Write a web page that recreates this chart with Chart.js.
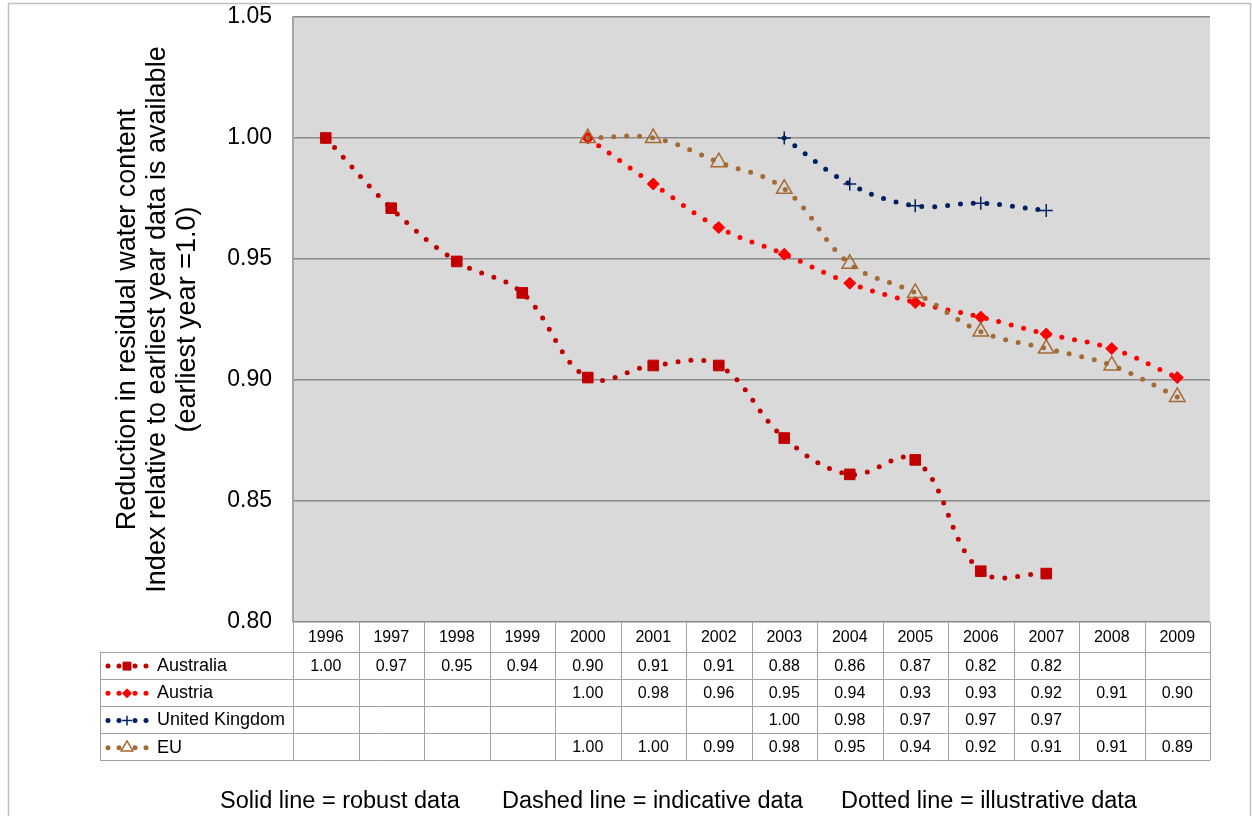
<!DOCTYPE html>
<html lang="en">
<head>
<meta charset="UTF-8">
<title>Reduction in residual water content</title>
<script src="https://cdn.jsdelivr.net/npm/chart.js"></script>
<style>
  body { margin: 0; background: #fff; }
  #wrap { position: relative; width: 1252px; height: 816px; }
</style>
</head>
<body>
<div id="wrap"><canvas id="chart" width="1252" height="816"></canvas></div>
<script>
// values (null = no data that year)
const years = ['1996', '1997', '1998', '1999', '2000', '2001', '2002', '2003', '2004', '2005', '2006', '2007', '2008', '2009'];
const australia = [1.000, 0.971, 0.949, 0.936, 0.901, 0.906, 0.906, 0.876, 0.861, 0.867, 0.821, 0.820, null, null];
const austria = [null, null, null, null, 1.000, 0.981, 0.963, 0.952, 0.940, 0.932, 0.926, 0.919, 0.913, 0.901];
const unitedKingdom = [null, null, null, null, null, null, null, 1.000, 0.981, 0.972, 0.973, 0.970, null, null];
const eu = [null, null, null, null, 1.000, 1.000, 0.990, 0.979, 0.948, 0.936, 0.920, 0.913, 0.906, 0.893];
const seriesNames = ['Australia', 'Austria', 'United Kingdom', 'EU'];
const yTicks = [0.80, 0.85, 0.90, 0.95, 1.00, 1.05];
const yTitle = ['Reduction in residual water content', 'Index relative to earliest year data is available', '(earliest year =1.0)'];
const notes = ['Solid line = robust data', 'Dashed line = indicative data', 'Dotted line = illustrative data'];

const FONT = "'Liberation Sans', Arial, sans-serif";
Chart.defaults.font.family = FONT;
Chart.defaults.color = '#000';

function series(label, data, color, style, radius, fillColor, borderW, order) {
    return {
        label: label,
        data: data,
        borderColor: color,
        borderWidth: 5,
        borderDash: [0, 13],
        borderCapStyle: 'round',
        tension: 0.38,
        fill: false,
        pointStyle: style,
        pointRadius: radius,
        pointBackgroundColor: fillColor,
        pointBorderColor: color,
        pointBorderWidth: borderW,
        order: order
    };
}

const datasets = [
    series(seriesNames[0], australia, '#c00000', 'rect', 7.5, '#c00000', 1, 3),
    series(seriesNames[1], austria, '#ff0000', 'rectRot', 6, '#ff0000', 1, 2),
    series(seriesNames[2], unitedKingdom, '#002060', 'cross', 6.5, '#002060', 1.5, 1),
    series(seriesNames[3], eu, '#a46a35', 'triangle', 9, 'rgba(0,0,0,0)', 1.5, 0)
];

// white page, outer frame and grey plot area
const frame = {
    id: 'frame',
    beforeDraw(chart) {
        const { ctx, chartArea: a } = chart;
        ctx.save();
        ctx.fillStyle = '#fff';
        ctx.fillRect(0, 0, chart.width, chart.height);
        ctx.strokeStyle = '#bfbfbf';
        ctx.lineWidth = 1.5;
        ctx.strokeRect(8.5, 3.5, 1242, 900);
        ctx.fillStyle = '#d9d9d9';
        ctx.fillRect(a.left, a.top, a.right - a.left, a.bottom - a.top);
        ctx.restore();
    }
};

// Excel style data table under the plot
const dataTable = {
    id: 'dataTable',
    afterDraw(chart) {
        const { ctx, chartArea: a } = chart;
        const xs = chart.scales.x;
        const band = xs.getPixelForValue(1) - xs.getPixelForValue(0);
        const headH = 29.5, rowH = 27.2, labelLeft = 100;
        const top = a.bottom;
        const rowTop = i => top + headH + i * rowH;
        const bottom = rowTop(seriesNames.length);

        ctx.save();
        ctx.strokeStyle = '#a0a0a0';
        ctx.lineWidth = 1;
        ctx.beginPath();
        for (let i = 0; i <= years.length; i++) {
            const ex = Math.round(xs.getPixelForValue(0) - band / 2 + i * band) + 0.5;
            ctx.moveTo(ex, top);
            ctx.lineTo(ex, bottom);
        }
        ctx.moveTo(labelLeft + 0.5, rowTop(0));
        ctx.lineTo(labelLeft + 0.5, bottom);
        for (let r = 0; r <= seriesNames.length; r++) {
            const y = Math.round(rowTop(r)) + 0.5;
            ctx.moveTo(labelLeft, y);
            ctx.lineTo(a.right, y);
        }
        ctx.stroke();

        ctx.fillStyle = '#000';
        ctx.textAlign = 'center';
        ctx.textBaseline = 'middle';
        ctx.font = '16px ' + FONT;
        years.forEach((yr, i) => ctx.fillText(yr, xs.getPixelForValue(i), top + headH / 2 + 1));

        chart.data.datasets.forEach((ds, r) => {
            const cy = rowTop(r) + rowH / 2 + 1;
            ctx.font = '16px ' + FONT;
            ctx.textAlign = 'center';
            ctx.fillStyle = '#000';
            ds.data.forEach((v, i) => {
                if (v !== null) ctx.fillText(v.toFixed(2), xs.getPixelForValue(i), cy);
            });

            // legend key: dots, marker, dots
            ctx.fillStyle = ds.borderColor;
            [-19, -8, 8, 19].forEach(dx => {
                ctx.beginPath();
                ctx.arc(127 + dx, cy, 2.5, 0, Math.PI * 2);
                ctx.fill();
            });
            if (Chart.helpers && Chart.helpers.drawPoint) {
                ctx.fillStyle = ds.pointBackgroundColor;
                ctx.strokeStyle = ds.pointBorderColor;
                ctx.lineWidth = ds.pointBorderWidth;
                Chart.helpers.drawPoint(ctx, {
                    pointStyle: ds.pointStyle,
                    radius: ds.pointRadius * 0.75,
                    rotation: 0,
                    borderWidth: ds.pointBorderWidth
                }, 127, cy);
            }

            ctx.fillStyle = '#000';
            ctx.textAlign = 'left';
            ctx.font = '18px ' + FONT;
            ctx.fillText(ds.label, 157, cy);
        });

        // line style note
        ctx.font = '23.5px ' + FONT;
        ctx.textAlign = 'left';
        ctx.fillText(notes[0], 220, 802);
        ctx.fillText(notes[1], 502, 802);
        ctx.fillText(notes[2], 841, 802);
        ctx.restore();
    }
};

new Chart(document.getElementById('chart'), {
    type: 'line',
    data: { labels: years, datasets: datasets },
    options: {
        responsive: false,
        animation: false,
        layout: { padding: { left: 113, right: 42, top: 17, bottom: 194 } },
        plugins: { legend: { display: false }, tooltip: { enabled: false } },
        scales: {
            x: {
                display: false,
                offset: true
            },
            y: {
                min: 0.8,
                max: 1.05,
                afterFit(scale) { scale.width = 180; },
                afterBuildTicks(scale) { scale.ticks = yTicks.map(v => ({ value: v })); },
                ticks: {
                    padding: 0,
                    color: '#000',
                    font: { size: 23 },
                    callback: v => v.toFixed(2)
                },
                grid: { color: '#8a8a8a', lineWidth: 1.5, drawTicks: true, tickLength: 21, tickColor: 'rgba(0,0,0,0)' },
                border: { color: '#a6a6a6', width: 2 },
                title: {
                    display: true,
                    text: yTitle,
                    color: '#000',
                    font: { size: 27, lineHeight: 1.1 },
                    padding: { top: 0, bottom: 0 }
                }
            }
        }
    },
    plugins: [frame, dataTable]
});
</script>
</body>
</html>
